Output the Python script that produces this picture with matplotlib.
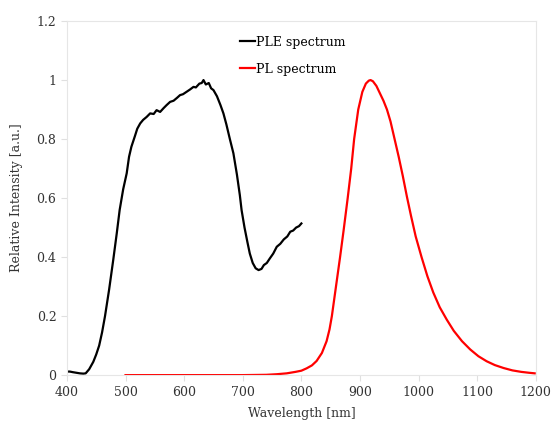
import matplotlib.pyplot as plt

# PLE (excitation) spectrum
ple_x = [400, 405, 410, 416, 422, 428, 432, 438, 445, 450, 455, 460, 465, 472, 479, 485, 490, 496, 502, 506, 510,
         516, 520, 525, 530, 536, 542, 548, 553, 559, 565, 570, 576, 582, 588, 593, 598, 604, 610, 616,
         620, 626, 630, 633, 637, 642, 646, 650, 656, 662, 667, 672, 678, 684, 690, 695, 698, 703, 708,
         712, 717, 722, 727, 732, 736, 741, 746, 752, 758, 764, 770, 776, 781, 786, 791, 796, 800]
ple_y = [0.012, 0.012, 0.010, 0.008, 0.006, 0.005, 0.006, 0.020, 0.045, 0.070, 0.100, 0.145, 0.200, 0.290,
         0.390, 0.480, 0.560, 0.630, 0.684, 0.740, 0.774, 0.810, 0.835, 0.853, 0.865, 0.875, 0.887, 0.885,
         0.898, 0.892, 0.905, 0.915, 0.926, 0.930, 0.940, 0.949, 0.952, 0.960, 0.968, 0.977, 0.975, 0.988,
         0.990, 1.000, 0.985, 0.990, 0.972, 0.966, 0.945, 0.915, 0.887, 0.850, 0.800, 0.752, 0.680, 0.610,
         0.559, 0.500, 0.450, 0.412, 0.380, 0.362, 0.356, 0.360, 0.373, 0.380, 0.395, 0.412, 0.435, 0.445,
         0.460, 0.470, 0.486, 0.490, 0.500, 0.505, 0.514]

# PL (emission) spectrum
pl_x = [500, 550, 600, 650, 700, 740, 758, 775, 790, 800, 809, 818, 826, 835, 843, 848, 852, 859, 866, 872,
        879, 885, 890, 897, 904, 910, 915, 918, 922, 928, 934, 940, 946, 952, 959, 966, 973, 980, 987,
        995, 1005, 1015, 1025, 1036, 1048, 1060, 1074, 1088, 1102, 1116, 1130, 1145, 1160, 1175,
        1188, 1198]
pl_y = [0.0, 0.0, 0.0, 0.0, 0.0, 0.001, 0.003, 0.006, 0.011, 0.015, 0.023, 0.033, 0.048, 0.075, 0.115,
        0.155, 0.200, 0.300, 0.400, 0.490, 0.600, 0.700, 0.800, 0.900, 0.960, 0.988, 0.998, 1.000, 0.996,
        0.980, 0.955, 0.930, 0.900, 0.860, 0.800, 0.740, 0.675, 0.605, 0.540, 0.470, 0.400, 0.335, 0.280,
        0.230, 0.188, 0.150, 0.115, 0.087, 0.064, 0.047, 0.034, 0.024, 0.016, 0.011, 0.008, 0.006]

x_ticks = [400, 500, 600, 700, 800, 900, 1000, 1100, 1200]
y_ticks = [0, 0.2, 0.4, 0.6, 0.8, 1.0, 1.2]
y_tick_labels = ['0', '0.2', '0.4', '0.6', '0.8', '1', '1.2']

plt.rcParams['font.family'] = ['DejaVu Serif']

fig = plt.figure(figsize=(5.53, 4.21), dpi=100)
ax = fig.add_axes([0.121, 0.109, 0.848, 0.841])

ax.plot(ple_x, ple_y, color='black', linewidth=1.6, label='PLE spectrum')
ax.plot(pl_x, pl_y, color='#ff0000', linewidth=1.6, label='PL spectrum')

ax.set_xlim(400, 1200)
ax.set_ylim(0, 1.2)
ax.set_xticks(x_ticks)
ax.set_yticks(y_ticks)
ax.set_yticklabels(y_tick_labels)
ax.tick_params(colors='#e0e0e0', labelcolor='#333333', labelsize=9, length=4, width=0.8)

for s in ax.spines.values():
    s.set_color('#e6e6e6')
    s.set_linewidth(0.8)

ax.set_xlabel('Wavelength [nm]', fontsize=9, color='#333333', labelpad=6)
ax.set_ylabel('Relative Intensity [a.u.]', fontsize=9, color='#333333', labelpad=10)

ax.legend(loc='upper left', bbox_to_anchor=(0.345, 0.99), frameon=False, fontsize=9,
          handlelength=1.2, handletextpad=0.1, labelspacing=1.1)

plt.savefig('out.png', dpi=100)
